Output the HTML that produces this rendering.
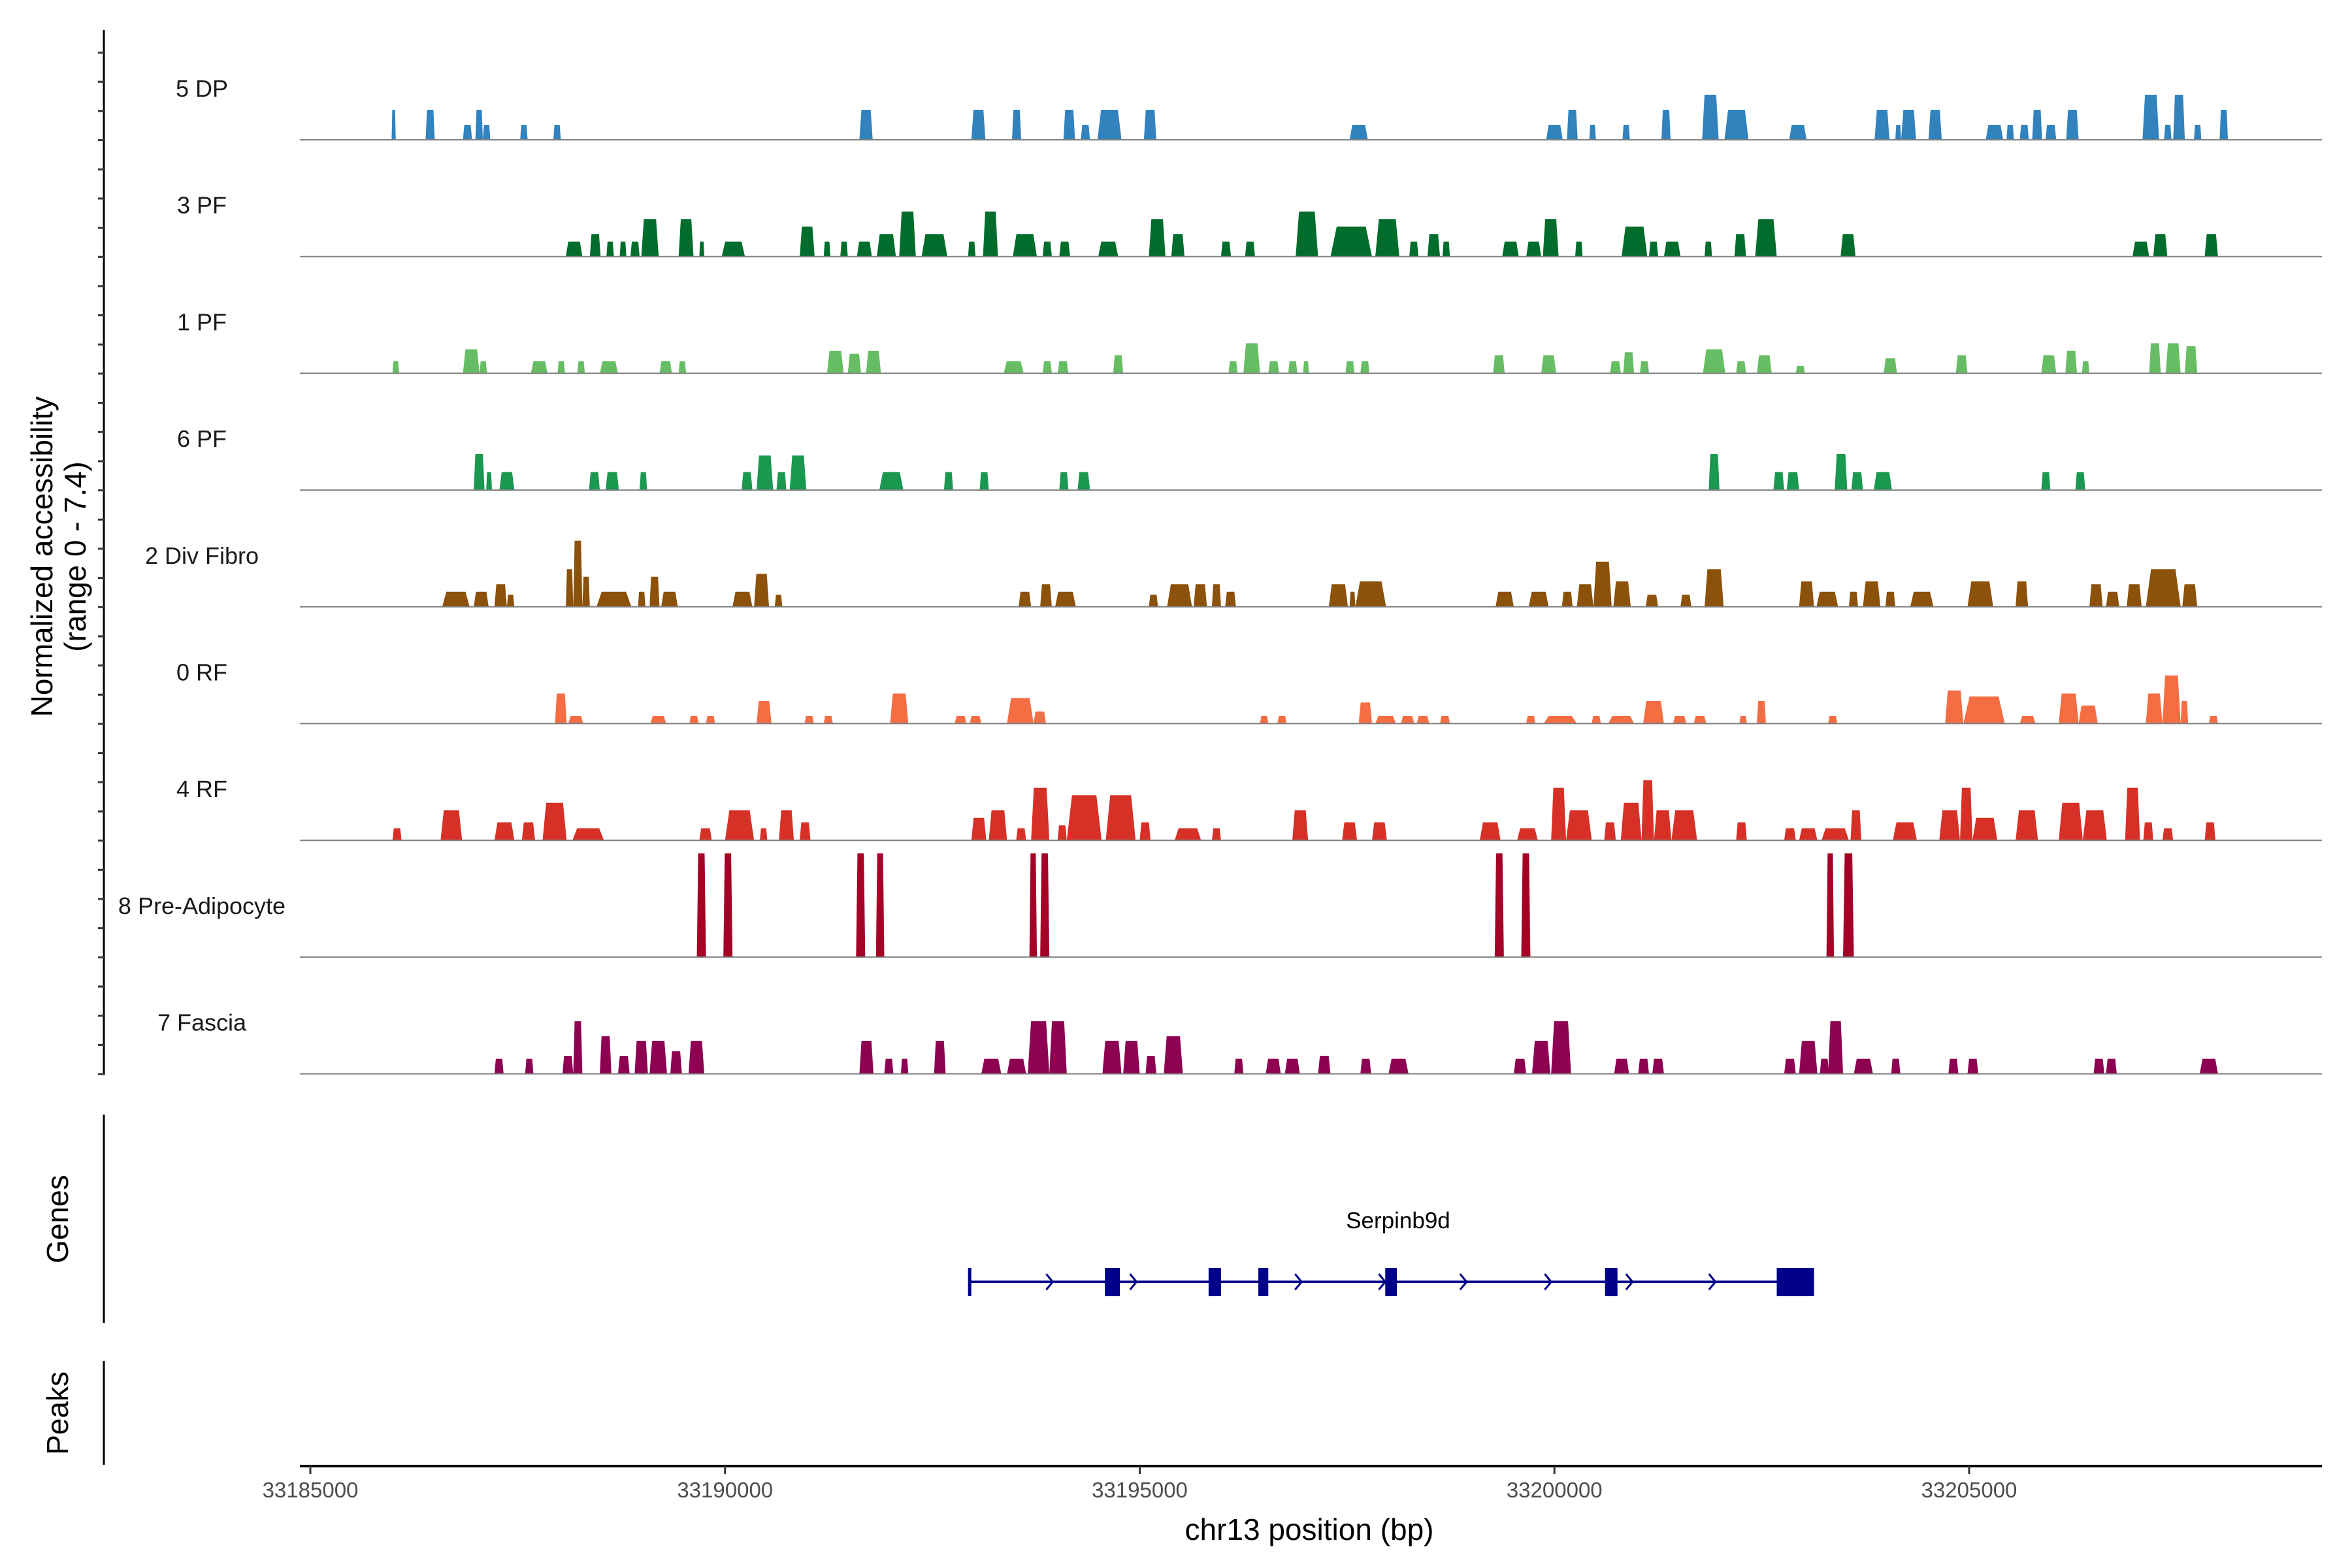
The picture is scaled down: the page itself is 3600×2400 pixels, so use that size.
<!DOCTYPE html>
<html><head><meta charset="utf-8"><style>
html,body{margin:0;padding:0;background:#fff;}
svg{display:block;font-family:"Liberation Sans",Arial,sans-serif;}
</style></head><body>
<svg id="chart" width="3600" height="2400" viewBox="0 0 3600 2400" xmlns="http://www.w3.org/2000/svg">
<g id="tracks"></g>
<g id="axes"></g>
<g id="gene"></g>
</svg>
<script>
const trackNames = ["5 DP","3 PF","1 PF","6 PF","2 Div Fibro","0 RF","4 RF","8 Pre-Adipocyte","7 Fascia"];
const trackColors = ["#3182bd","#006d2c","#66bd63","#1a9850","#8c510a","#f46d43","#d73027","#a50026","#8e0152"];
const xTicks = [33185000,33190000,33195000,33200000,33205000];
const xTickLabels = ["33185000","33190000","33195000","33200000","33205000"];
// peaks: [start bp, end bp, height]
const peaksDP = [[33185980,33186030,2],[33186390,33186500,2],[33186840,33186950,1],[33186990,33187080,2],[33187080,33187170,1],[33187530,33187620,1],[33187930,33188020,1],[33191620,33191780,2],[33192970,33193140,2],[33193460,33193570,2],[33194080,33194220,2],[33194290,33194400,1],[33194490,33194780,2],[33195050,33195200,2],[33197530,33197750,1],[33199900,33200100,1],[33200150,33200280,2],[33200420,33200500,1],[33200820,33200910,1],[33201290,33201400,2],[33201780,33201980,3],[33202050,33202340,2],[33202830,33203040,1],[33203860,33204040,2],[33204110,33204180,1],[33204180,33204360,2],[33204510,33204670,2],[33205200,33205410,1],[33205450,33205540,1],[33205610,33205720,1],[33205760,33205880,2],[33205920,33206050,1],[33206170,33206320,2],[33207090,33207290,3],[33207350,33207440,1],[33207460,33207600,3],[33207710,33207800,1],[33208020,33208120,2]];
const peaksPF3 = [[33188080,33188280,1],[33188370,33188500,1.5],[33188570,33188660,1],[33188730,33188810,1],[33188860,33188970,1],[33188990,33189200,2.5],[33189440,33189620,2.5],[33189690,33189750,1],[33189960,33190240,1],[33190900,33191080,2],[33191190,33191270,1],[33191390,33191480,1],[33191590,33191770,1],[33191830,33192060,1.5],[33192100,33192300,3],[33192370,33192680,1.5],[33192930,33193020,1],[33193110,33193290,3],[33193470,33193760,1.5],[33193830,33193940,1],[33194030,33194160,1],[33194500,33194740,1],[33195110,33195310,2.5],[33195380,33195540,1.5],[33195980,33196100,1],[33196270,33196390,1],[33196880,33197150,3],[33197300,33197800,2],[33197840,33198130,2.5],[33198250,33198360,1],[33198470,33198620,1.5],[33198650,33198740,1],[33199370,33199570,1],[33199660,33199840,1],[33199860,33200050,2.5],[33200250,33200340,1],[33200810,33201120,2],[33201140,33201250,1],[33201320,33201520,1],[33201810,33201900,1],[33202170,33202310,1.5],[33202420,33202680,2.5],[33203450,33203630,1.5],[33206970,33207170,1],[33207220,33207390,1.5],[33207840,33208000,1.5]];
const peaksPF1 = [[33185990,33186070,0.8],[33186840,33187040,1.6],[33187040,33187130,0.8],[33187660,33187860,0.8],[33187980,33188070,0.8],[33188220,33188310,0.8],[33188490,33188710,0.8],[33189210,33189360,0.8],[33189440,33189530,0.8],[33191230,33191430,1.5],[33191480,33191640,1.3],[33191700,33191880,1.5],[33193360,33193600,0.8],[33193830,33193940,0.8],[33194010,33194140,0.8],[33194680,33194800,1.2],[33196070,33196180,0.8],[33196250,33196450,2],[33196550,33196680,0.8],[33196790,33196900,0.8],[33196970,33197040,0.8],[33197480,33197590,0.8],[33197660,33197770,0.8],[33199260,33199400,1.2],[33199840,33200020,1.2],[33200670,33200800,0.8],[33200830,33200960,1.4],[33201030,33201140,0.8],[33201790,33202060,1.6],[33202190,33202310,0.8],[33202440,33202620,1.2],[33202910,33203020,0.5],[33203970,33204130,1],[33204840,33204980,1.2],[33205870,33206050,1.2],[33206160,33206300,1.5],[33206360,33206450,0.8],[33207170,33207310,2],[33207370,33207550,2],[33207600,33207750,1.8]];
const peaksPF6 = [[33186970,33187100,2.4],[33187120,33187190,1.2],[33187280,33187460,1.2],[33188360,33188490,1.2],[33188560,33188720,1.2],[33188970,33189060,1.2],[33190200,33190330,1.2],[33190380,33190580,2.3],[33190620,33190740,1.2],[33190780,33190980,2.3],[33191860,33192150,1.2],[33192640,33192750,1.2],[33193070,33193180,1.2],[33194030,33194140,1.2],[33194250,33194400,1.2],[33201860,33201990,2.4],[33202640,33202770,1.2],[33202800,33202950,1.2],[33203380,33203530,2.4],[33203580,33203720,1.2],[33203850,33204070,1.2],[33205870,33205980,1.2],[33206280,33206400,1.2]];
const peaksDiv = [[33186590,33186920,1],[33186970,33187150,1],[33187220,33187370,1.5],[33187370,33187460,0.8],[33188080,33188170,2.5],[33188170,33188280,4.4],[33188280,33188370,2],[33188450,33188870,1],[33188950,33189040,1],[33189090,33189210,2],[33189230,33189430,1],[33190090,33190330,1],[33190350,33190530,2.2],[33190600,33190690,0.8],[33193540,33193690,1],[33193800,33193940,1.5],[33193980,33194230,1],[33195110,33195220,0.8],[33195330,33195630,1.5],[33195650,33195810,1.5],[33195870,33195980,1.5],[33196030,33196160,1],[33197280,33197510,1.5],[33197530,33197600,1],[33197600,33197970,1.7],[33199290,33199510,1],[33199690,33199930,1],[33200090,33200220,1],[33200270,33200470,1.5],[33200470,33200690,3],[33200710,33200920,1.7],[33201100,33201250,0.8],[33201520,33201650,0.8],[33201810,33202040,2.5],[33202950,33203130,1.7],[33203160,33203420,1],[33203550,33203660,1],[33203720,33203930,1.7],[33203990,33204110,1],[33204290,33204570,1],[33204980,33205290,1.7],[33205560,33205710,1.7],[33206450,33206610,1.5],[33206650,33206810,1],[33206900,33207080,1.5],[33207130,33207550,2.5],[33207570,33207750,1.5]];
const peaksRF0 = [[33187950,33188090,2],[33188110,33188290,0.5],[33189100,33189290,0.5],[33189570,33189680,0.5],[33189770,33189880,0.5],[33190380,33190560,1.5],[33190960,33191070,0.5],[33191190,33191300,0.5],[33191990,33192210,2],[33192770,33192910,0.5],[33192950,33193090,0.5],[33193400,33193720,1.7],[33193720,33193870,0.8],[33196450,33196550,0.5],[33196660,33196770,0.5],[33197640,33197800,1.4],[33197840,33198090,0.5],[33198150,33198310,0.5],[33198340,33198490,0.5],[33198620,33198740,0.5],[33199660,33199770,0.5],[33199870,33200270,0.5],[33200450,33200560,0.5],[33200650,33200960,0.5],[33201070,33201320,1.5],[33201430,33201590,0.5],[33201680,33201830,0.5],[33202230,33202320,0.5],[33202440,33202550,1.5],[33203300,33203410,0.5],[33204710,33204930,2.2],[33204930,33205430,1.8],[33205610,33205800,0.5],[33206080,33206320,2],[33206320,33206550,1.2],[33207130,33207330,2],[33207330,33207550,3.2],[33207550,33207640,1.5],[33207890,33208000,0.5]];
const peaksRF4 = [[33185990,33186100,0.8],[33186570,33186830,2],[33187220,33187460,1.2],[33187550,33187710,1.2],[33187800,33188090,2.5],[33188160,33188540,0.8],[33189690,33189840,0.8],[33190000,33190350,2],[33190420,33190510,0.8],[33190650,33190830,2],[33190900,33191030,1.2],[33192970,33193150,1.5],[33193180,33193400,2],[33193510,33193630,0.8],[33193690,33193910,3.5],[33194010,33194120,1],[33194120,33194540,3],[33194590,33194950,3],[33195000,33195130,1.2],[33195420,33195740,0.8],[33195870,33195980,0.8],[33196840,33197030,2],[33197440,33197620,1.2],[33197800,33197980,1.2],[33199100,33199350,1.2],[33199550,33199800,0.8],[33199960,33200140,3.5],[33200140,33200450,2],[33200600,33200740,1.2],[33200800,33201050,2.5],[33201050,33201200,4],[33201200,33201410,2],[33201410,33201720,2],[33202190,33202320,1.2],[33202770,33202910,0.8],[33202950,33203170,0.8],[33203220,33203550,0.8],[33203570,33203700,2],[33204080,33204370,1.2],[33204640,33204890,2],[33204890,33205040,3.5],[33205040,33205340,1.5],[33205560,33205830,2],[33206080,33206370,2.5],[33206370,33206660,2],[33206880,33207060,3.5],[33207100,33207220,1.2],[33207330,33207460,0.8],[33207840,33207970,1.2]];
const peaksPreAd = [[33189660,33189770,6.9],[33189980,33190090,6.9],[33191580,33191690,6.9],[33191820,33191920,6.9],[33193670,33193760,6.9],[33193800,33193910,6.9],[33199280,33199390,6.9],[33199600,33199710,6.9],[33203280,33203370,6.9],[33203480,33203610,6.9]];
const peaksFascia = [[33187220,33187330,1],[33187590,33187690,1],[33188040,33188170,1.2],[33188170,33188280,3.5],[33188490,33188630,2.5],[33188710,33188850,1.2],[33188910,33189070,2.2],[33189090,33189300,2.2],[33189340,33189480,1.5],[33189560,33189750,2.2],[33191620,33191790,2.2],[33191920,33192030,1],[33192120,33192210,1],[33192520,33192660,2.2],[33193090,33193330,1],[33193400,33193630,1],[33193650,33193910,3.5],[33193910,33194120,3.5],[33194550,33194780,2.2],[33194800,33195000,2.2],[33195070,33195200,1.2],[33195290,33195520,2.5],[33196140,33196250,1],[33196520,33196700,1],[33196750,33196930,1],[33197150,33197300,1.2],[33197660,33197790,1],[33198000,33198240,1],[33199510,33199660,1],[33199730,33199950,2.2],[33199960,33200200,3.5],[33200720,33200900,1],[33201010,33201140,1],[33201180,33201320,1],[33202770,33202910,1],[33202950,33203170,2.2],[33203200,33203310,1],[33203300,33203480,3.5],[33203610,33203840,1],[33204060,33204170,1],[33204750,33204870,1],[33204980,33205110,1],[33206500,33206630,1],[33206650,33206780,1],[33207780,33208000,1]];
const trackPeaks = [peaksDP,peaksPF3,peaksPF1,peaksPF6,peaksDiv,peaksRF0,peaksRF4,peaksPreAd,peaksFascia];
const geneStart = 33192930, geneEnd = 33203130;
const exonStarts = [33194580,33195830,33196430,33197960,33200610,33202680];
const exonEnds   = [33194760,33195980,33196550,33198100,33200760,33203130];
const arrowPos = [33193920,33194930,33196920,33197930,33198910,33199930,33200910,33201910];

const NS = "http://www.w3.org/2000/svg";
function el(tag, attrs, parent){const e=document.createElementNS(NS,tag);for(const k in attrs)e.setAttribute(k,attrs[k]);parent.appendChild(e);return e;}
const X0=33185000, PX0=475, PXPB=(3014-475)/20000;
function xs(bp){return PX0+(bp-X0)*PXPB;}
const base0=214, trackStep=178.7, unitPx=23;
function ys(i,v){return base0+i*trackStep - v*unitPx;}

const gT=document.getElementById('tracks');
trackNames.forEach((name,i)=>{
  const g=el('g',{},gT);
  
  
  const lab=el('text',{x:309,y:ys(i,0)-66,'text-anchor':'middle','font-size':36,fill:'#1a1a1a'},g);
  lab.textContent=name;
  
  
  trackPeaks[i].forEach(p=>{
    const x1=xs(p[0]),x2=xs(p[1]),w=x2-x1,s=Math.max(1,w*0.15),yb=ys(i,0),yt=ys(i,p[2]);
    const poly=el('polygon',{points:`${x1},${yb} ${x1+s},${yt} ${x2-s},${yt} ${x2},${yb}`,fill:trackColors[i]},g);
    
    
  });
  const bl=el('line',{x1:459,x2:3554,y1:ys(i,0),y2:ys(i,0),stroke:'#808080','stroke-width':2},g);
  
  
});

const gA=document.getElementById('axes');
let a=el('line',{x1:159,x2:159,y1:46,y2:1645,stroke:'#000','stroke-width':3},gA);


for(let k=0;k<36;k++){
  const y=1644-k*44.67;
  const t=el('line',{x1:150,x2:159,y1:y,y2:y,stroke:'#333','stroke-width':3},gA);
  
  
}
let t1=el('text',{transform:'translate(80,852) rotate(-90)','text-anchor':'middle','font-size':46,fill:'#000'},gA);
t1.textContent='Normalized accessibility';


let t2=el('text',{transform:'translate(131,852) rotate(-90)','text-anchor':'middle','font-size':46,fill:'#000'},gA);
t2.textContent='(range 0 - 7.4)';


a=el('line',{x1:159,x2:159,y1:1706,y2:2025,stroke:'#000','stroke-width':3},gA);


let t3=el('text',{transform:'translate(104,1866) rotate(-90)','text-anchor':'middle','font-size':46,fill:'#000'},gA);
t3.textContent='Genes';


a=el('line',{x1:159,x2:159,y1:2083,y2:2242,stroke:'#000','stroke-width':3},gA);


let t4=el('text',{transform:'translate(104,2163) rotate(-90)','text-anchor':'middle','font-size':46,fill:'#000'},gA);
t4.textContent='Peaks';


a=el('line',{x1:459,x2:3554,y1:2244,y2:2244,stroke:'#000','stroke-width':4},gA);


xTicks.forEach((v,k)=>{
  const tk=el('line',{x1:xs(v),x2:xs(v),y1:2244,y2:2256,stroke:'#333','stroke-width':3},gA);
  
  
  const tl=el('text',{x:xs(v),y:2292,'text-anchor':'middle','font-size':33,fill:'#4d4d4d'},gA);
  tl.textContent=xTickLabels[k];
  
  
});
let t5=el('text',{x:2004,y:2357,'text-anchor':'middle','font-size':46,fill:'#000'},gA);
t5.textContent='chr13 position (bp)';



const gG=document.getElementById('gene');
const gy=1962;
let gl=el('line',{x1:xs(geneStart),x2:xs(geneEnd),y1:gy,y2:gy,stroke:'#00008b','stroke-width':4},gG);


let st=el('rect',{x:xs(geneStart),y:1941,width:5,height:43,fill:'#00008b'},gG);


exonStarts.forEach((s,k)=>{
  const r=el('rect',{x:xs(s),y:1941,width:xs(exonEnds[k])-xs(s),height:43,fill:'#00008b'},gG);
  
  
});
arrowPos.forEach(p=>{
  const x=xs(p);
  const ar=el('polyline',{points:`${x-6},${gy-12} ${x+4},${gy} ${x-6},${gy+12}`,fill:'none',stroke:'#00008b','stroke-width':3},gG);
  
  
});
let gn=el('text',{x:2140,y:1880,'text-anchor':'middle','font-size':35,fill:'#000'},gG);
gn.textContent='Serpinb9d';


</script>
</body></html>
